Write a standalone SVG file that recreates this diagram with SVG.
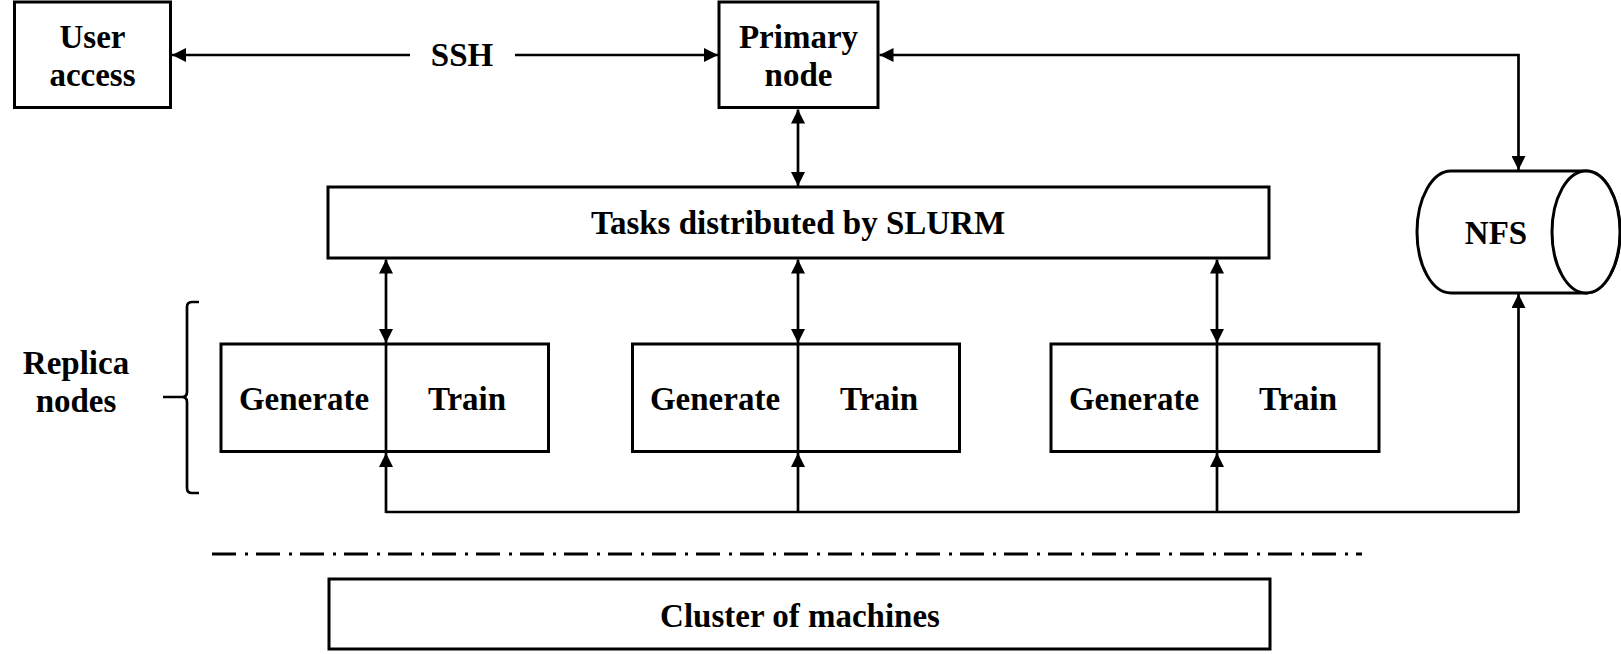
<svg xmlns="http://www.w3.org/2000/svg" width="1621" height="654" viewBox="0 0 1621 654">
  <style>
    .box { fill: #ffffff; stroke: #000000; stroke-width: 3; }
    .ln { fill: none; stroke: #000000; stroke-width: 2.7; }
    .t { font-family: "Liberation Serif", "Times New Roman", serif; font-weight: bold; font-size: 33px; fill: #000000; text-anchor: middle; dominant-baseline: central; }
  </style>
  <defs>
    <marker id="arr" markerUnits="userSpaceOnUse" markerWidth="14" markerHeight="14" viewBox="0 0 12 12" refX="12" refY="6" orient="auto">
      <path d="M0,0 L12,6 L0,12 Z" fill="#000000"/>
    </marker>
  </defs>
  <rect width="1621" height="654" fill="#ffffff"/>

  <g id="connectors">
    <line class="ln" x1="410" y1="55" x2="172" y2="55" marker-end="url(#arr)"/>
    <line class="ln" x1="515" y1="55" x2="718" y2="55" marker-end="url(#arr)"/>
    <line class="ln" x1="798" y1="148" x2="798" y2="109.5" marker-end="url(#arr)"/>
    <line class="ln" x1="798" y1="148" x2="798" y2="186" marker-end="url(#arr)"/>
    <path class="ln" d="M1518.5,113 V55 H879.5" marker-end="url(#arr)"/>
    <path class="ln" d="M1518.5,113 V170" marker-end="url(#arr)"/>
    <line class="ln" x1="386" y1="300" x2="386" y2="259.5" marker-end="url(#arr)"/>
    <line class="ln" x1="386" y1="300" x2="386" y2="343" marker-end="url(#arr)"/>
    <line class="ln" x1="798" y1="300" x2="798" y2="259.5" marker-end="url(#arr)"/>
    <line class="ln" x1="798" y1="300" x2="798" y2="343" marker-end="url(#arr)"/>
    <line class="ln" x1="1217" y1="300" x2="1217" y2="259.5" marker-end="url(#arr)"/>
    <line class="ln" x1="1217" y1="300" x2="1217" y2="343" marker-end="url(#arr)"/>
    <path class="ln" d="M386,512 H1518.5"/>
    <line class="ln" x1="386" y1="513" x2="386" y2="453" marker-end="url(#arr)"/>
    <line class="ln" x1="798" y1="513" x2="798" y2="453" marker-end="url(#arr)"/>
    <line class="ln" x1="1217" y1="513" x2="1217" y2="453" marker-end="url(#arr)"/>
    <line class="ln" x1="1518.5" y1="513" x2="1518.5" y2="294" marker-end="url(#arr)"/>
  </g>

  <g id="ssh-label">
    <text class="t" x="462" y="55">SSH</text>
  </g>

  <g id="user-access">
    <rect class="box" x="14.5" y="2" width="156" height="105.5"/>
    <text class="t" x="92.5" y="37">User</text>
    <text class="t" x="92.5" y="75">access</text>
  </g>

  <g id="primary-node">
    <rect class="box" x="719" y="2" width="159" height="105.5"/>
    <text class="t" x="798.5" y="37">Primary</text>
    <text class="t" x="798.5" y="75">node</text>
  </g>

  <g id="slurm">
    <rect class="box" x="328" y="187" width="941" height="71"/>
    <text class="t" x="798" y="223">Tasks distributed by SLURM</text>
  </g>

  <g id="nfs">
    <path class="box" d="M1451,171 H1586 A34,61 0 0 1 1586,293 H1451 A34,61 0 0 1 1451,171 Z"/>
    <ellipse class="box" cx="1586" cy="232" rx="34" ry="61"/>
    <text class="t" x="1496" y="233">NFS</text>
  </g>

  <g id="replica-label">
    <text class="t" x="76" y="363">Replica</text>
    <text class="t" x="76" y="401">nodes</text>
    <path class="ln" d="M199,302 H192 Q187,302 187,307 V392 Q187,397 182,397 H163 M182,397 Q187,397 187,402 V488 Q187,493 192,493 H199" stroke-width="3"/>
  </g>

  <g id="replica-1">
    <rect class="box" x="221" y="344" width="327.5" height="107.5"/>
    <line class="ln" x1="386" y1="344" x2="386" y2="451.5"/>
    <text class="t" x="304" y="399">Generate</text>
    <text class="t" x="467" y="399">Train</text>
  </g>

  <g id="replica-2">
    <rect class="box" x="632.5" y="344" width="327" height="107.5"/>
    <line class="ln" x1="798" y1="344" x2="798" y2="451.5"/>
    <text class="t" x="715" y="399">Generate</text>
    <text class="t" x="879" y="399">Train</text>
  </g>

  <g id="replica-3">
    <rect class="box" x="1051" y="344" width="328" height="107.5"/>
    <line class="ln" x1="1217" y1="344" x2="1217" y2="451.5"/>
    <text class="t" x="1134" y="399">Generate</text>
    <text class="t" x="1298" y="399">Train</text>
  </g>

  <g id="separator">
    <line x1="212" y1="554" x2="1362" y2="554" stroke="#000000" stroke-width="3" stroke-dasharray="24 9 3 8"/>
  </g>

  <g id="cluster">
    <rect class="box" x="329" y="579" width="941" height="70"/>
    <text class="t" x="800" y="616">Cluster of machines</text>
  </g>
</svg>
